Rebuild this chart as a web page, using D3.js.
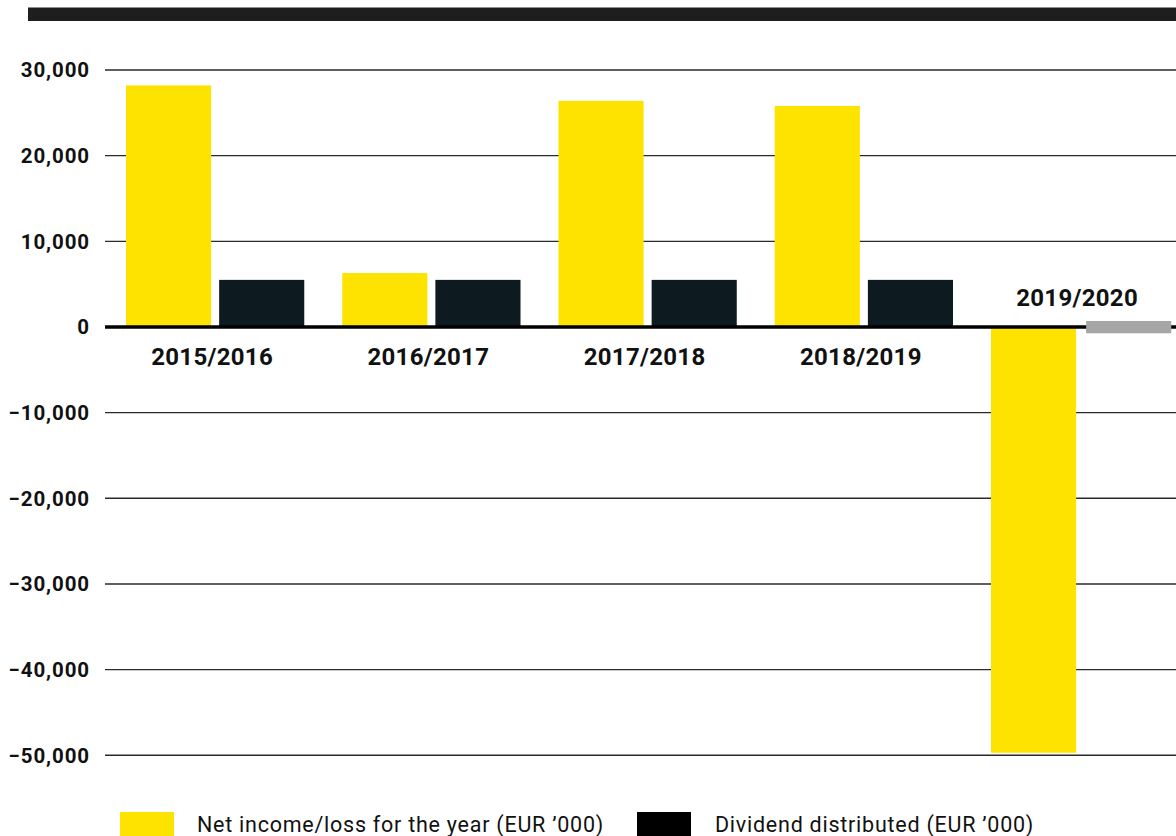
<!DOCTYPE html>
<html>
<head>
<meta charset="utf-8">
<script src="https://cdn.jsdelivr.net/npm/d3@7/dist/d3.min.js"></script>
<style>
  html, body { margin: 0; padding: 0; background: #ffffff; }
  svg { display: block; }
  text { font-family: Roboto, "DejaVu Sans", sans-serif; }
</style>
</head>
<body>
<svg id="chart" width="1176" height="836"></svg>
<script>
// Fiscal years shown on the category axis
const years = ["2015/2016", "2016/2017", "2017/2018", "2018/2019", "2019/2020"];
// Net income / loss for the year, EUR '000
const netIncome = [28200, 6300, 26400, 25800, -49700];
// Dividend distributed, EUR '000 (none for 2019/2020)
const dividend = [5500, 5500, 5500, 5500, 0];
// Value axis ticks
const tickValues = [30000, 20000, 10000, 0, -10000, -20000, -30000, -40000, -50000];
// Series names for the legend
const seriesNames = ["Net income/loss for the year (EUR \u2019000)", "Dividend distributed (EUR \u2019000)"];

const YELLOW = "#ffe300";
const DARK = "#0d1a20";
const W = 1176, H = 836;

const svg = d3.select("#chart");

// Heavy rule across the top
svg.append("rect")
  .attr("x", 28).attr("y", 7.5)
  .attr("width", W - 28).attr("height", 13.5)
  .attr("fill", "#1e1e1e");

const y = d3.scaleLinear().domain([-50000, 30000]).range([755.3, 70]);

const x = d3.scaleBand()
  .domain(years)
  .range([126, 1169.25])
  .paddingInner(0.1757)
  .paddingOuter(0);

const xs = d3.scaleBand()
  .domain(["net", "div"])
  .range([0, x.bandwidth()])
  .paddingInner(0.086)
  .paddingOuter(0);

// Gridlines
const grid = svg.append("g");
grid.selectAll("line")
  .data(tickValues.filter(v => v !== 0))
  .join("line")
  .attr("x1", 105).attr("x2", W)
  .attr("y1", d => y(d)).attr("y2", d => y(d))
  .attr("stroke", "#2a2a2a")
  .attr("stroke-width", 1.4);

// Tick labels
svg.append("g").selectAll("text")
  .data(tickValues)
  .join("text")
  .attr("x", 90)
  .attr("y", d => y(d))
  .attr("dy", "0.36em")
  .attr("text-anchor", "end")
  .attr("font-size", 20.5)
  .attr("font-weight", 700)
  .attr("letter-spacing", 0.9)
  .attr("fill", "#111")
  .text(d => d3.format(",")(d));

const rows = years.map((yr, i) => ({ year: yr, net: netIncome[i], div: dividend[i] }));

// Net income bars
svg.append("g").selectAll("rect")
  .data(rows)
  .join("rect")
  .attr("x", d => x(d.year) + xs("net"))
  .attr("width", xs.bandwidth())
  .attr("y", d => y(Math.max(0, d.net)))
  .attr("height", d => Math.abs(y(d.net) - y(0)))
  .attr("fill", YELLOW);

// Dividend bars
svg.append("g").selectAll("rect")
  .data(rows.filter(d => d.div > 0))
  .join("rect")
  .attr("x", d => x(d.year) + xs("div"))
  .attr("width", xs.bandwidth())
  .attr("y", d => y(d.div))
  .attr("height", d => y(0) - y(d.div))
  .attr("fill", DARK);

// Zero baseline
svg.append("line")
  .attr("x1", 105).attr("x2", W)
  .attr("y1", y(0)).attr("y2", y(0))
  .attr("stroke", "#000")
  .attr("stroke-width", 3.5);

// Grey marker where no dividend was paid
svg.append("g").selectAll("rect")
  .data(rows.filter(d => d.div === 0))
  .join("rect")
  .attr("x", d => x(d.year) + xs("div") + 2)
  .attr("width", xs.bandwidth())
  .attr("y", y(0) - 6)
  .attr("height", 12.3)
  .attr("fill", "#a6a6a6");

// Category labels: below the baseline, or above it for a negative year
svg.append("g").selectAll("text")
  .data(rows)
  .join("text")
  .attr("x", d => x(d.year) + x.bandwidth() / 2 - 3)
  .attr("y", d => d.net < 0 ? y(0) - 21 : y(0) + 38)
  .attr("text-anchor", "middle")
  .attr("font-size", 24)
  .attr("font-weight", 700)
  .attr("letter-spacing", 0.3)
  .attr("fill", "#111")
  .text(d => d.year);

// Legend
const legend = svg.append("g");
const legendItems = [
  { name: seriesNames[0], color: YELLOW, x: 120, tx: 197 },
  { name: seriesNames[1], color: "#000", x: 637, tx: 715 }
];
legend.selectAll("rect")
  .data(legendItems)
  .join("rect")
  .attr("x", d => d.x).attr("y", 812)
  .attr("width", 54).attr("height", 26)
  .attr("fill", d => d.color);
legend.selectAll("text")
  .data(legendItems)
  .join("text")
  .attr("x", d => d.tx).attr("y", 832)
  .attr("font-size", 21.5)
  .attr("font-weight", 400)
  .attr("letter-spacing", 0.75)
  .attr("fill", "#111")
  .text(d => d.name);
</script>
</body>
</html>
